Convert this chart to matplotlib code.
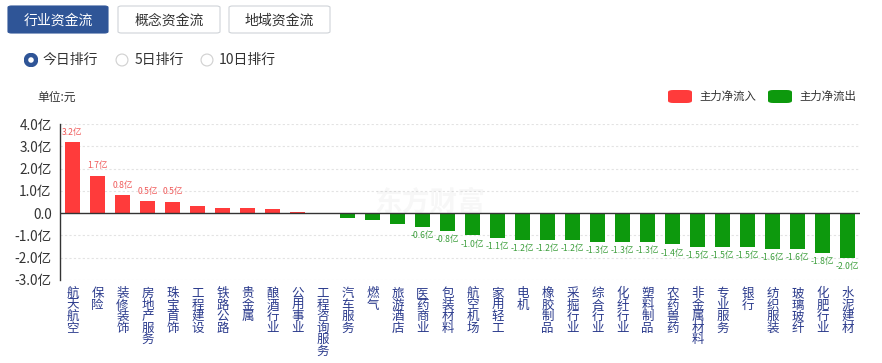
import matplotlib
matplotlib.use("Agg")
import matplotlib.pyplot as plt
from matplotlib.patches import FancyBboxPatch, Circle
import numpy as np

plt.rcParams['font.family'] = ['Noto Sans CJK SC', 'DejaVu Sans']

categories = ["航天航空", "保险", "装修装饰", "房地产服务", "珠宝首饰", "工程建设", "铁路公路", "贵金属",
              "酿酒行业", "公用事业", "工程咨询服务", "汽车服务", "燃气", "旅游酒店", "医药商业", "包装材料",
              "航空机场", "家用轻工", "电机", "橡胶制品", "采掘行业", "综合行业", "化纤行业", "塑料制品",
              "农药兽药", "非金属材料", "专业服务", "银行", "纺织服装", "玻璃玻纤", "化肥行业", "水泥建材"]
values = [3.17, 1.68, 0.81, 0.53, 0.5, 0.31, 0.25, 0.22,
          0.2, 0.05, 0.01, -0.2, -0.3, -0.47, -0.6, -0.8,
          -1.0, -1.1, -1.2, -1.2, -1.2, -1.3, -1.3, -1.3,
          -1.4, -1.5, -1.5, -1.5, -1.6, -1.6, -1.8, -2.0]
yticks = [-3, -2, -1, 0, 1, 2, 3, 4]
ytick_labels = ["-3.0亿", "-2.0亿", "-1.0亿", "0.0", "1.0亿", "2.0亿", "3.0亿", "4.0亿"]
tabs = ["行业资金流", "概念资金流", "地域资金流"]
radios = ["今日排行", "5日排行", "10日排行"]
legend_labels = ["主力净流入", "主力净流出"]

RED = "#ff3b3b"
GREEN = "#0d990d"
W, H = 882, 363

fig = plt.figure(figsize=(W / 100, H / 100), dpi=100)
fig.patch.set_facecolor("white")

def fx(px):
    return px / W

def fy(py):
    return 1 - py / H

# --- tabs ---
tab_boxes = [(8, 6, 100, 27), (118, 6, 102, 27), (229, 6, 101, 27)]
for i, (lbl, (x, y, w, h)) in enumerate(zip(tabs, tab_boxes)):
    active = i == 0
    box = FancyBboxPatch((fx(x), fy(y + h)), fx(w), h / H,
                         boxstyle="round,pad=0,rounding_size=0.004",
                         transform=fig.transFigure,
                         facecolor="#2f5597" if active else "white",
                         edgecolor="#2f5597" if active else "#cfd3d8", linewidth=0.8)
    fig.patches.append(box)
    fig.text(fx(x + w / 2), fy(y + h / 2 + 1), lbl, ha="center", va="center", fontsize=10,
             color="white" if active else "#333333")

# --- radio buttons ---
radio_pos = [(31, 43), (122, 135), (207, 219)]
for i, (lbl, (cx, tx)) in enumerate(zip(radios, radio_pos)):
    ax_c = fig.add_axes([fx(cx - 7), fy(60 + 7), fx(14), 14 / H])
    ax_c.set_xlim(-1, 1); ax_c.set_ylim(-1, 1); ax_c.set_aspect("equal"); ax_c.axis("off")
    if i == 0:
        ax_c.add_patch(Circle((0, 0), 0.72, facecolor="white", edgecolor="#2f5597", linewidth=3.2))
    else:
        ax_c.add_patch(Circle((0, 0), 0.85, facecolor="white", edgecolor="#d0d0d0", linewidth=0.8))
    fig.text(fx(tx), fy(60), lbl, ha="left", va="center", fontsize=10, color="#333333")

# --- unit label ---
fig.text(fx(37), fy(97), "单位:元", ha="left", va="center", fontsize=8.5, color="#333333")

# --- legend ---
for (rx, tx, col, lbl) in [(668, 699, RED, legend_labels[0]), (768, 799, GREEN, legend_labels[1])]:
    box = FancyBboxPatch((fx(rx), fy(103)), fx(24), 13 / H,
                         boxstyle="round,pad=0,rounding_size=0.006",
                         transform=fig.transFigure, facecolor=col, edgecolor="none")
    fig.patches.append(box)
    fig.text(fx(tx), fy(96.5), lbl, ha="left", va="center", fontsize=8.2, color="#333333")

# --- chart ---
ax = fig.add_axes([fx(60), fy(280), fx(800), (280 - 124) / H])
x = np.arange(len(categories))
colors = [RED if v >= 0 else GREEN for v in values]
ax.bar(x, values, width=0.6, color=colors, zorder=3)
ax.set_xlim(-0.5, len(categories) - 0.5)
ax.set_ylim(-3, 4)
ax.set_yticks(yticks)
ax.set_yticklabels(ytick_labels, fontsize=9.8, color="#333333")
ax.tick_params(axis="y", length=0, pad=6)
for yt in yticks:
    if yt != 0:
        ax.axhline(yt, color="#e3e3e3", linestyle=(0, (2, 2)), linewidth=0.8, zorder=1)
ax.axhline(0, color="#333333", linewidth=1.0, zorder=4)
for s in ["top", "right", "bottom"]:
    ax.spines[s].set_visible(False)
ax.spines["left"].set_color("#333333")
ax.spines["left"].set_linewidth(1.0)

ax.set_xticks(x)
ax.set_xticklabels(["\n".join(c) for c in categories], fontsize=9, color="#2a3a8c",
                   va="top", linespacing=0.86)
ax.tick_params(axis="x", length=0, pad=5)

for xi, v in zip(x, values):
    if abs(v) >= 0.5:
        lbl = f"{v:.1f}亿"
        if v >= 0:
            ax.annotate(lbl, (xi, v), xytext=(0, 4), textcoords="offset points",
                        ha="center", va="bottom", fontsize=6.2, color="#f05a5a")
        else:
            ax.annotate(lbl, (xi, v), xytext=(0, -3), textcoords="offset points",
                        ha="center", va="top", fontsize=6.2, color="#3c9e3c")

# watermark
fig.text(fx(430), fy(203), "东方财富", ha="center", va="center", fontsize=20,
         color="#000000", alpha=0.03, fontweight="bold")

fig.savefig("out.png", dpi=100, facecolor="white")
